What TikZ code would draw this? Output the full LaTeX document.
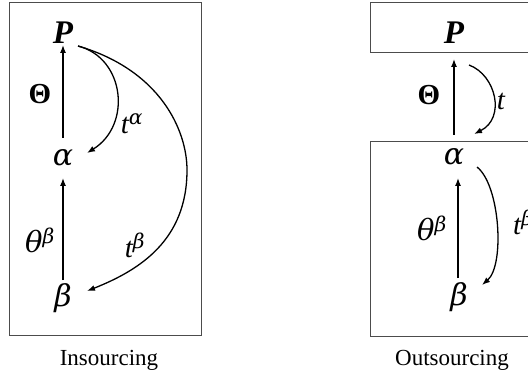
\documentclass[tikz,border=0pt]{standalone}
\usepackage{fontspec}
\setmainfont{Liberation Serif}
\newfontfamily\grk{DejaVu Serif}
\usetikzlibrary{arrows.meta}

\tikzset{
  var/.style={font=\fontsize{33}{33}\selectfont\itshape,inner sep=0pt},
  gvar/.style={font=\fontsize{30}{30}\selectfont\grk\itshape,inner sep=0pt},
  lbl/.style={font=\fontsize{29}{29}\selectfont\itshape,inner sep=0pt},
  arr/.style={line width=1.3pt,-{Latex[length=8pt,width=6pt]}},
  box/.style={draw=black!70,line width=0.9pt},
  caption/.style={font=\fontsize{23}{23}\selectfont,inner sep=0pt}
}
\newcommand{\gsup}[1]{\textsuperscript{\grk #1}}

\begin{document}
\begin{tikzpicture}[x=1pt,y=-1pt]
\useasboundingbox (0,0) rectangle (528,377);
\clip (0,0) rectangle (528,377);

% insourcing
\draw[box] (9,2) rectangle (201,335);
\node[var] at (63,33) (P1) {\bfseries P};
\node[gvar] at (63,158) (a1) {α};
\node[gvar] at (63,298) (b1) {β};
\draw[arr] ([yshift=20pt]a1.center)--([yshift=-12pt]P1.center);
\draw[arr] ([yshift=18pt]b1.center)--([yshift=-20pt]a1.center);
\draw[arr] ([xshift=15pt,yshift=-13pt]P1.center) .. controls (125,58) and (132,125) .. ([xshift=24pt,yshift=5pt]a1.center);
\draw[arr] ([xshift=15pt,yshift=-13pt]P1.center) .. controls (160,70) and (187,130) .. (187,170)
  .. controls (187,240) and (140,270) .. ([xshift=24pt,yshift=7pt]b1.center);
\node[lbl] at (40,94) (Th1) {\upshape\bfseries Θ};
\node[lbl] at (40,240) (th1) {{\grk θ}\gsup{β}};
\node[lbl] at (132,124) (ta1) {t\gsup{α}};
\node[lbl] at (135,245) (tb1) {t\gsup{β}};
\node[caption] at (109,360) (in) {Insourcing};

% outsourcing
\draw[box] (535,2) -| (370,52) -- (535,52);
\draw[box] (535,141) -| (370,336) -- (535,336);
\node[var] at (454,33) (P2) {\bfseries P};
\node[gvar] at (454,157) (a2) {α};
\node[gvar] at (459,297) (b2) {β};
\draw[arr] ([yshift=22pt]a2.center)--([yshift=-26pt]P2.center);
\draw[arr] ([xshift=-1pt,yshift=19pt]b2.center)--([xshift=4pt,yshift=-21pt]a2.center);
\draw[arr] ([xshift=15pt,yshift=-32pt]P2.center) .. controls (496,75) and (506,118) .. ([xshift=20pt,yshift=23pt]a2.center);
\draw[arr] ([xshift=23pt,yshift=-10pt]a2.center) .. controls (500,185) and (505,265) .. ([xshift=23pt,yshift=12pt]b2.center);
\node[lbl] at (429,95) (Th2) {\upshape\bfseries Θ};
\node[lbl] at (501,101) (t2) {t};
\node[lbl] at (432,228) (th2) {{\grk θ}\gsup{β}};
\node[lbl,anchor=west] at (513,222) (tb2) {t\gsup{β}};
\node[caption] at (452,360) (out) {Outsourcing};
\end{tikzpicture}
\end{document}
